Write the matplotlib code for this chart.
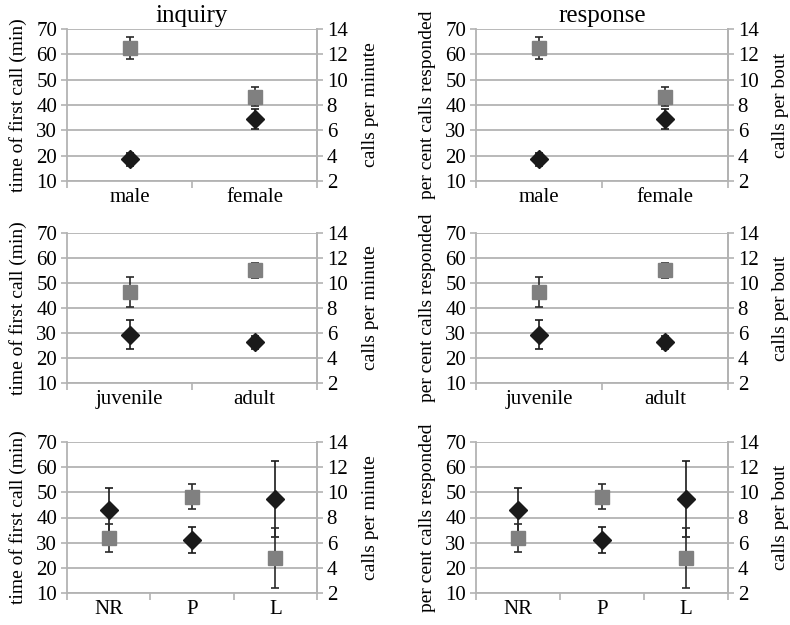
import matplotlib.pyplot as plt
import numpy as np

plt.rcParams["font.family"] = "serif"
plt.rcParams["font.serif"] = ["Liberation Serif", "Times New Roman", "DejaVu Serif"]
plt.rcParams["font.size"] = 15

# --- Data ---
# black diamonds on the left axis, grey squares on the right axis
sex_labels = ["male", "female"]
sex_diamond = [18.6, 34.4]
sex_diamond_err = [2.5, 4.0]
sex_square = [12.52, 8.66]
sex_square_err = [0.85, 0.75]

age_labels = ["juvenile", "adult"]
age_diamond = [29.4, 26.3]
age_diamond_err = [5.7, 2.5]
age_square = [9.28, 11.0]
age_square_err = [1.18, 0.6]

grp_labels = ["NR", "P", "L"]
grp_diamond = [42.9, 31.0, 47.5]
grp_diamond_err = [8.9, 5.2, 15.1]
grp_square = [6.36, 9.66, 4.8]
grp_square_err = [1.14, 1.0, 2.38]

rows = [
    (sex_labels, sex_diamond, sex_diamond_err, sex_square, sex_square_err),
    (age_labels, age_diamond, age_diamond_err, age_square, age_square_err),
    (grp_labels, grp_diamond, grp_diamond_err, grp_square, grp_square_err),
]
columns = [
    ("inquiry", "time of first call (min)", "calls per minute"),
    ("response", "per cent calls responded", "calls per bout"),
]

GRID = "#b3b3b3"
fig = plt.figure(figsize=(7.9, 6.25), dpi=100)

col_left = [0.0848, 0.6025]
col_width = [0.3165, 0.319]
row_bottom = [0.7104, 0.3867, 0.0512]
row_height = [0.2432, 0.241, 0.2416]

for c, (title, ylab_left, ylab_right) in enumerate(columns):
    for r, (labels, dia, dia_err, sq, sq_err) in enumerate(rows):
        ax = fig.add_axes([col_left[c], row_bottom[r], col_width[c], row_height[r]])
        n = len(labels)
        x = np.arange(n) + 0.5

        ax.set_xlim(0, n)
        ax.set_ylim(10, 70)
        ax.set_yticks(range(10, 71, 10))
        ax.grid(axis="y", color=GRID, linewidth=1.3)
        ax.set_axisbelow(True)
        ax.set_xticks(np.arange(n + 1))
        ax.set_xticklabels([])
        ax.set_xticks(x, minor=True)
        ax.set_xticklabels(labels, minor=True)
        ax.tick_params(axis="x", which="major", direction="out", length=5, color=GRID, width=1.2)
        ax.tick_params(axis="x", which="minor", length=0, pad=5)
        ax.tick_params(axis="y", direction="out", length=4, color=GRID, width=1.2, pad=3)
        ax.spines["top"].set_visible(False)
        for side in ["left", "right", "bottom"]:
            ax.spines[side].set_color(GRID)
            ax.spines[side].set_linewidth(1.3)
        ax.set_ylabel(ylab_left, fontsize=14, labelpad=7)

        ax.errorbar(x, dia, yerr=dia_err, fmt="D", color="#1a1a1a", ecolor="#1a1a1a",
                    markersize=9.5, capsize=3, elinewidth=1.2, capthick=1.2)

        ax2 = ax.twinx()
        ax2.set_ylim(2, 14)
        ax2.set_yticks(range(2, 15, 2))
        ax2.tick_params(axis="y", direction="out", length=4, color=GRID, width=1.2, pad=3)
        for side in ["top", "left", "bottom"]:
            ax2.spines[side].set_visible(False)
        ax2.spines["right"].set_color(GRID)
        ax2.spines["right"].set_linewidth(1.3)
        ax2.set_ylabel(ylab_right, fontsize=14, labelpad=10)
        ax2.errorbar(x, sq, yerr=sq_err, fmt="s", color="#808080", ecolor="#2a2a2a",
                     markersize=10, capsize=3, elinewidth=1.2, capthick=1.2)

        if r == 0:
            ax.set_title(title, pad=5)

fig.savefig("out.png", dpi=100)
